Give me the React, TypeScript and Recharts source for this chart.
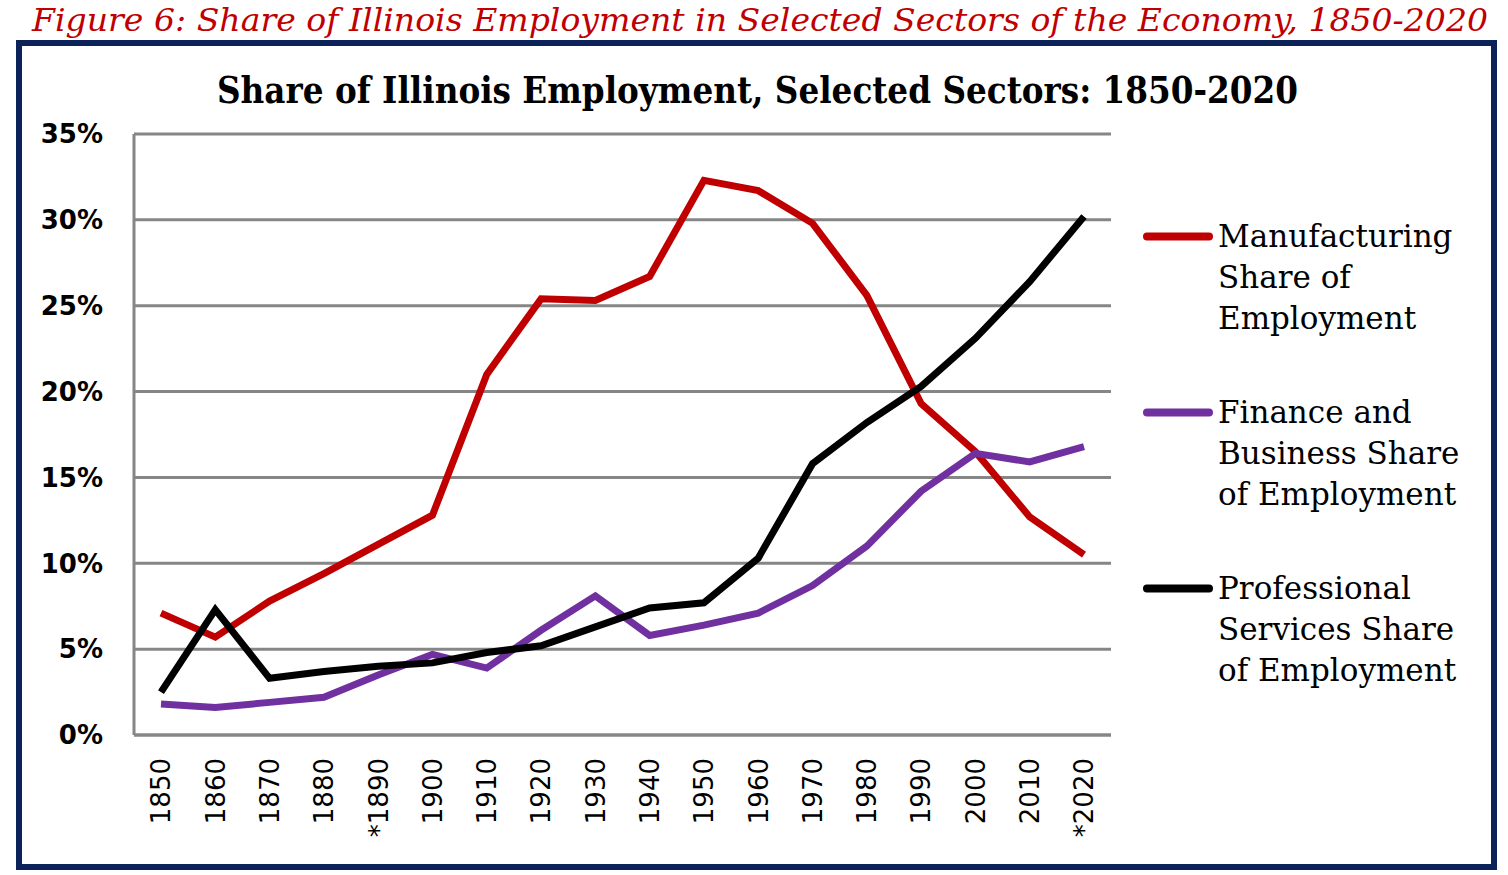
import React from 'react';
import { LineChart, Line, XAxis, YAxis, CartesianGrid, Legend } from 'recharts';

// decades on the category axis ("*" marks the estimated years)
const years = [
  '1850', '1860', '1870', '1880', '*1890', '1900', '1910', '1920', '1930',
  '1940', '1950', '1960', '1970', '1980', '1990', '2000', '2010', '*2020',
];

// share of employment, percent
const manufacturing = [
  7.1, 5.7, 7.8, 9.4, 11.1, 12.8, 21.0, 25.4, 25.3,
  26.7, 32.3, 31.7, 29.8, 25.6, 19.3, 16.5, 12.7, 10.5,
];
const financeBusiness = [
  1.8, 1.6, 1.9, 2.2, 3.5, 4.7, 3.9, 6.1, 8.1,
  5.8, 6.4, 7.1, 8.7, 11.0, 14.2, 16.4, 15.9, 16.8,
];
const professionalServices = [
  2.5, 7.3, 3.3, 3.7, 4.0, 4.2, 4.8, 5.2, 6.3,
  7.4, 7.7, 10.3, 15.8, 18.2, 20.3, 23.1, 26.4, 30.2,
];

const yTicks = [0, 5, 10, 15, 20, 25, 30, 35];

// legend order and the wrapped legend text for each series
const seriesOrder = ['manufacturing', 'finance', 'professional'];
const legendLines: Record<string, string[]> = {
  manufacturing: ['Manufacturing', 'Share of', 'Employment'],
  finance: ['Finance and', 'Business Share', 'of Employment'],
  professional: ['Professional', 'Services Share', 'of Employment'],
};

const data = years.map((year, i) => ({
  year,
  manufacturing: manufacturing[i],
  finance: financeBusiness[i],
  professional: professionalServices[i],
}));

const GRID = '#868686';

function YearTick(props: any) {
  const { x, y, payload } = props;
  return (
    <text
      x={x}
      y={y}
      dy="0.36em"
      textAnchor="end"
      transform={`rotate(-90, ${x}, ${y})`}
      fontFamily="DejaVu Sans"
      fontSize={26}
      fill="#000"
    >
      {payload.value}
    </text>
  );
}

function SectorLegend(props: any) {
  const entries = [...(props.payload || [])].sort(
    (a: any, b: any) => seriesOrder.indexOf(a.dataKey) - seriesOrder.indexOf(b.dataKey)
  );
  return (
    <div style={{ fontFamily: 'DejaVu Serif', fontSize: 31, lineHeight: '41px', color: '#000' }}>
      {entries.map((entry: any) => (
        <div key={entry.dataKey} style={{ display: 'flex', height: 176 }}>
          <svg width={80} height={41} style={{ flex: 'none' }}>
            <line x1={9} x2={71} y1={20.5} y2={20.5} stroke={entry.color} strokeWidth={8} strokeLinecap="round" />
          </svg>
          <div>
            {(legendLines[entry.dataKey] || [entry.value]).map((line) => (
              <div key={line} style={{ whiteSpace: 'nowrap' }}>{line}</div>
            ))}
          </div>
        </div>
      ))}
    </div>
  );
}

export default function App() {
  return (
    <div style={{ position: 'absolute', left: 0, top: 0, width: 1508, height: 875, background: '#fff' }}>
      <svg width={1508} height={875} style={{ position: 'absolute', left: 0, top: 0 }}>
        <text
          x={32}
          y={31}
          fontFamily="DejaVu Serif"
          fontStyle="italic"
          fontSize={32}
          fill="#c00000"
          textLength={1456}
          lengthAdjust="spacingAndGlyphs"
        >
          Figure 6: Share of Illinois Employment in Selected Sectors of the Economy, 1850-2020
        </text>
        <rect x={19} y={43} width={1475} height={824} fill="none" stroke="#0b2358" strokeWidth={6} />
        <text
          x={217}
          y={103}
          fontFamily="DejaVu Serif"
          fontWeight="bold"
          fontSize={37}
          fill="#000"
          textLength={1081}
          lengthAdjust="spacingAndGlyphs"
        >
          Share of Illinois Employment, Selected Sectors: 1850-2020
        </text>
      </svg>
      <div style={{ position: 'absolute', left: 0, top: 0 }}>
        <LineChart
          width={1508}
          height={875}
          data={data}
          margin={{ top: 134, right: 397, bottom: 30, left: 34 }}
        >
          <CartesianGrid vertical={false} stroke={GRID} strokeWidth={3} />
          <XAxis
            dataKey="year"
            height={110}
            padding={{ left: 27, right: 27 }}
            interval={0}
            tickLine={false}
            tickSize={0}
            tickMargin={23}
            axisLine={{ stroke: GRID, strokeWidth: 3 }}
            tick={<YearTick />}
          />
          <YAxis
            width={100}
            domain={[0, 35]}
            ticks={yTicks}
            interval={0}
            tickLine={false}
            tickSize={0}
            tickMargin={31}
            axisLine={{ stroke: GRID, strokeWidth: 3 }}
            tickFormatter={(v) => `${v}%`}
            tick={{ fontFamily: 'DejaVu Sans', fontWeight: 'bold', fontSize: 26, fill: '#000' }}
          />
          <Legend
            layout="vertical"
            align="center"
            verticalAlign="middle"
            content={<SectorLegend />}
            wrapperStyle={{ left: 1138, top: 216, width: 350, height: 500 }}
          />
          <Line
            type="linear"
            dataKey="manufacturing"
            name="Manufacturing Share of Employment"
            stroke="#c00000"
            strokeWidth={7}
            dot={false}
            isAnimationActive={false}
          />
          <Line
            type="linear"
            dataKey="finance"
            name="Finance and Business Share of Employment"
            stroke="#7030a0"
            strokeWidth={7}
            dot={false}
            isAnimationActive={false}
          />
          <Line
            type="linear"
            dataKey="professional"
            name="Professional Services Share of Employment"
            stroke="#000000"
            strokeWidth={7}
            dot={false}
            isAnimationActive={false}
          />
        </LineChart>
      </div>
    </div>
  );
}
